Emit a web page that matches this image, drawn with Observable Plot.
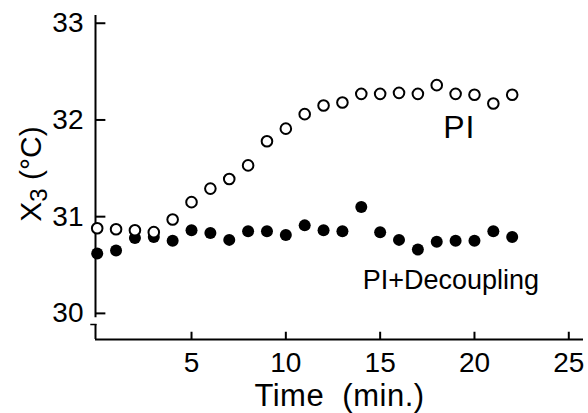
<!DOCTYPE html>
<html>
<head>
<meta charset="utf-8">
<script src="https://cdn.jsdelivr.net/npm/d3@7"></script>
<script src="https://cdn.jsdelivr.net/npm/@observablehq/plot@0.6"></script>
<style>
  html, body { margin: 0; padding: 0; background: #fff; }
  #chart svg { display: block; }
</style>
</head>
<body>
<div id="chart"></div>
<script>
// Time (min.)
const time = [0, 1, 2, 3, 4, 5, 6, 7, 8, 9, 10, 11, 12, 13, 14, 15, 16, 17, 18, 19, 20, 21, 22];
// X3 (°C), PI control (open circles)
const piValues = [30.88, 30.87, 30.86, 30.84, 30.97, 31.15, 31.29, 31.39, 31.53, 31.78, 31.91, 32.06, 32.15, 32.18, 32.27, 32.27, 32.28, 32.27, 32.36, 32.27, 32.26, 32.17, 32.26];
// X3 (°C), PI + Decoupling (filled circles)
const decValues = [30.62, 30.65, 30.78, 30.79, 30.75, 30.86, 30.83, 30.76, 30.85, 30.85, 30.81, 30.91, 30.86, 30.85, 31.10, 30.84, 30.76, 30.66, 30.74, 30.75, 30.75, 30.85, 30.79];
const xTicks = [5, 10, 15, 20, 25];
const yTicks = [30, 31, 32, 33];
const seriesLabels = [
  {name: "PI", t: 19.2, v: 31.92},
  {name: "PI+Decoupling", t: 18.75, v: 30.34}
];

const xDomain = [-0.09, 25.78];
const yDomain = [29.73, 33.08];

const piData = time.map((t, i) => ({t, v: piValues[i]}));
const decData = time.map((t, i) => ({t, v: decValues[i]}));

const x0 = xDomain[0];
const y0 = yDomain[0];

const plot = Plot.plot({
  width: 588,
  height: 413,
  marginLeft: 95,
  marginRight: 5,
  marginTop: 15,
  marginBottom: 74,
  style: {fontFamily: "Liberation Sans, Arial, sans-serif", fontSize: "28px", color: "#000", background: "#fff"},
  x: {domain: xDomain},
  y: {domain: yDomain},
  marks: [
    // axis lines (y axis with a break near the bottom)
    Plot.ruleY([y0], {stroke: "#000", strokeWidth: 2}),
    Plot.ruleX([{y1: 29.955, y2: 33.08}], {x: () => x0, y1: "y1", y2: "y2", stroke: "#000", strokeWidth: 2}),
    Plot.ruleX([{y1: y0, y2: 29.885}], {x: () => x0, y1: "y1", y2: "y2", stroke: "#000", strokeWidth: 2}),
    Plot.ruleY([{y: 29.885}], {y: "y", x1: () => x0 - 0.25, x2: () => x0 + 0.08, stroke: "#000", strokeWidth: 1.5}),
    // inward ticks
    Plot.ruleY(yTicks, {x1: () => x0, x2: () => x0 + 0.55, stroke: "#000", strokeWidth: 2}),
    Plot.ruleX(xTicks, {y1: () => y0, y2: () => y0 + 0.075, stroke: "#000", strokeWidth: 2}),
    Plot.axisY({ticks: yTicks, tickFormat: d => String(d), tickSize: 0, tickPadding: 12, label: null}),
    Plot.axisX({ticks: xTicks, tickFormat: d => String(d), tickSize: 0, tickPadding: 13,
      label: "Time  (min.)", labelAnchor: "center", labelArrow: "none", labelOffset: 66}),
    // data
    Plot.dot(decData, {x: "t", y: "v", r: 6, fill: "#000", stroke: "none"}),
    Plot.dot(piData, {x: "t", y: "v", r: 5.3, fill: "#fff", stroke: "#000", strokeWidth: 2}),
    Plot.text([seriesLabels[0]], {x: "t", y: "v", text: "name", fill: "#000", className: "lab-pi"}),
    Plot.text([seriesLabels[1]], {x: "t", y: "v", text: "name", fill: "#000", className: "lab-dec"})
  ]
});

const svg = d3.select(plot);
svg.selectAll("text").style("font-size", "28px");
svg.selectAll("g[aria-label='x-axis label'] text").style("font-size", "31px").style("letter-spacing", "0.5px");
svg.selectAll(".lab-pi text").style("font-size", "32px").style("letter-spacing", "1px");
svg.selectAll(".lab-dec text").style("font-size", "27px");

// y-axis label with subscript
const yl = svg.append("text")
  .attr("transform", "translate(41,174) rotate(-90)")
  .attr("text-anchor", "middle")
  .style("font-size", "30px")
  .attr("fill", "#000");
yl.append("tspan").text("X");
yl.append("tspan").attr("dy", 6).style("font-size", "24px").text("3");
yl.append("tspan").attr("dy", -6).text(" (°C)");

document.getElementById("chart").append(plot);
</script>
</body>
</html>
